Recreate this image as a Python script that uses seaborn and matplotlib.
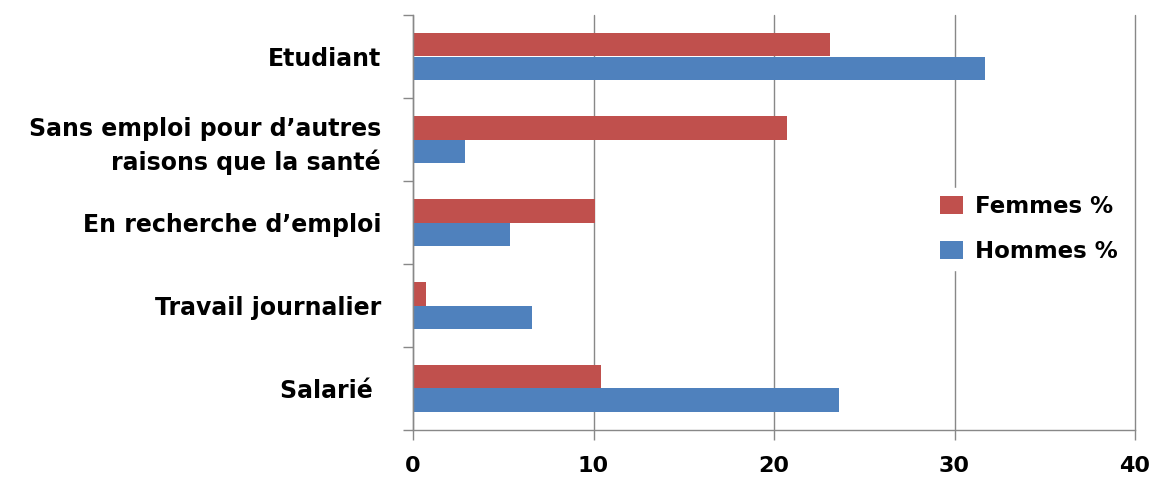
import matplotlib
matplotlib.use("Agg")
import matplotlib.pyplot as plt
import seaborn as sns
import pandas as pd
from matplotlib.ticker import FixedLocator

categories = ["Etudiant",
              "Sans emploi pour d\u2019autres\nraisons que la santé",
              "En recherche d\u2019emploi",
              "Travail journalier",
              "Salarié "]
femmes = [23.1, 20.7, 10.1, 0.7, 10.4]
hommes = [31.7, 2.9, 5.4, 6.6, 23.6]
series = ["Femmes %", "Hommes %"]
x_ticks = [0, 10, 20, 30, 40]

df = pd.DataFrame({
    "cat": categories * 2,
    "val": femmes + hommes,
    "serie": [series[0]] * 5 + [series[1]] * 5,
})

sns.set_theme(style="white")
plt.rcParams["font.family"] = ["DejaVu Sans"]

fig = plt.figure(figsize=(11.53, 4.8), dpi=100)
ax = fig.add_axes([413 / 1153, 1 - 430 / 480, (1135 - 413) / 1153, (430 - 15) / 480])

sns.barplot(data=df, y="cat", x="val", hue="serie", order=categories,
            hue_order=series, palette=["#C0504D", "#4F81BD"], orient="h",
            width=0.56, saturation=1, ax=ax, edgecolor="none")

ax.set_xlim(0, 40)
ax.set_ylim(4.5, -0.5)
ax.set_xticks(x_ticks)
ax.set_xticklabels([str(t) for t in x_ticks], fontsize=16, fontweight="bold", color="black")
ax.set_yticks(range(len(categories)))
ax.set_yticklabels(categories, fontsize=17, fontweight="bold", color="black",
                   linespacing=1.4)
ax.yaxis.set_minor_locator(FixedLocator([i - 0.5 for i in range(len(categories) + 1)]))
ax.tick_params(axis="y", which="major", length=0, pad=23)
ax.tick_params(axis="y", which="minor", length=7, width=1, color="#888888", direction="out", left=True)
ax.tick_params(axis="x", which="major", length=7, width=1, color="#888888", direction="out", bottom=True, pad=12)
ax.set_xlabel("")
ax.set_ylabel("")
ax.grid(axis="x", color="#888888", linewidth=1)
for gl in ax.get_xgridlines():
    gl.set_clip_on(False)
ax.set_axisbelow(True)
for s in ["top", "right"]:
    ax.spines[s].set_visible(False)
for s in ["left", "bottom"]:
    ax.spines[s].set_color("#888888")
    ax.spines[s].set_linewidth(1)

leg = ax.legend(loc="center left", bbox_to_anchor=((922 - 413) / (1135 - 413), 0.5 - (229 - 222.5) / 415),
                frameon=True, framealpha=1, edgecolor="white", facecolor="white",
                prop={"weight": "bold", "size": 16.5}, labelspacing=0.95, labelcolor="black",
                handlelength=1.0, handleheight=0.8, handletextpad=0.5, borderpad=0.3)
leg.set_title(None)

fig.savefig("out.png", dpi=100, facecolor="white")
